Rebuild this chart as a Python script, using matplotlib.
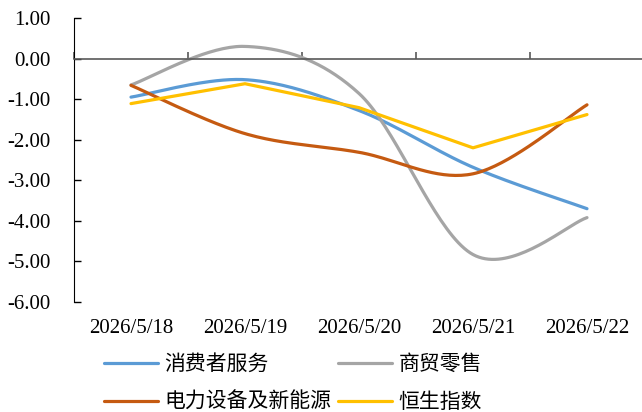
import numpy as np
import matplotlib.pyplot as plt
from matplotlib.transforms import blended_transform_factory

plt.rcParams['font.family'] = ['Liberation Serif', 'Noto Sans CJK SC']

# 数据
dates = ['2026/5/18', '2026/5/19', '2026/5/20', '2026/5/21', '2026/5/22']
consumer = [-0.95, -0.52, -1.28, -2.68, -3.70]
retail = [-0.65, 0.30, -0.86, -4.83, -3.92]
power = [-0.66, -1.85, -2.31, -2.84, -1.14]
hsi = [-1.11, -0.62, -1.21, -2.20, -1.38]

names = ['消费者服务', '商贸零售', '电力设备及新能源', '恒生指数']
colors = ['#5B9BD5', '#A5A5A5', '#C55A11', '#FFC000']
smooth = [True, True, True, False]


def smooth_curve(x, y, n=40):
    # 类似Excel的平滑线 (Catmull-Rom -> Bezier)
    p = np.column_stack([x, y]).astype(float)
    pts = [p[0]]
    for i in range(len(p) - 1):
        p0 = p[i - 1] if i > 0 else p[i]
        p3 = p[i + 2] if i + 2 < len(p) else p[i + 1]
        c1 = p[i] + (p[i + 1] - p0) / 6
        c2 = p[i + 1] - (p3 - p[i]) / 6
        t = np.linspace(0, 1, n)[1:, None]
        seg = ((1 - t) ** 3 * p[i] + 3 * (1 - t) ** 2 * t * c1
               + 3 * (1 - t) * t ** 2 * c2 + t ** 3 * p[i + 1])
        pts.extend(seg)
    pts = np.array(pts)
    return pts[:, 0], pts[:, 1]


fig = plt.figure(figsize=(6.42, 4.12), dpi=100)
ax = fig.add_axes([74 / 642, 1 - 302 / 412, 570 / 642, 284 / 412])

x = np.arange(len(dates))
lines = []
for vals, name, c, s in zip([consumer, retail, power, hsi], names, colors, smooth):
    if s:
        xs, ys = smooth_curve(x, vals)
    else:
        xs, ys = x, vals
    ln, = ax.plot(xs, ys, color=c, lw=2.3, label=name, solid_capstyle='round')
    lines.append(ln)

ax.set_xlim(-0.5, len(dates) - 0.5)
ax.set_ylim(-6, 1)
yt = np.arange(-6, 1.01, 1)
ax.set_yticks(yt)
ax.set_yticklabels(['%.2f' % v for v in yt], fontsize=15)
ax.tick_params(axis='y', direction='in', length=5, width=1, pad=17)

# x轴在0处
ax.spines['top'].set_visible(False)
ax.spines['right'].set_visible(False)
ax.spines['bottom'].set_position(('data', 0))
ax.spines['bottom'].set_color('#595959')
ax.spines['bottom'].set_linewidth(1.2)
ax.set_xticks(np.arange(-0.5, len(dates), 1))
ax.set_xticklabels([])
ax.tick_params(axis='x', direction='in', length=5, width=1.2, color='#595959')

trans = blended_transform_factory(ax.transData, ax.transAxes)
for i, d in enumerate(dates):
    ax.text(i, -0.092, d, transform=trans, ha='center', va='center', fontsize=15)

order = [0, 2, 1, 3]
fig.legend([lines[i] for i in order], [names[i] for i in order],
           ncol=2, loc='center', bbox_to_anchor=(293 / 642, 1 - 383 / 412),
           frameon=False, handlelength=2.6, handletextpad=0.3,
           columnspacing=0.3, labelspacing=0.77,
           prop={'family': 'Noto Sans CJK SC', 'size': 15})

fig.savefig('out.png', dpi=100)
